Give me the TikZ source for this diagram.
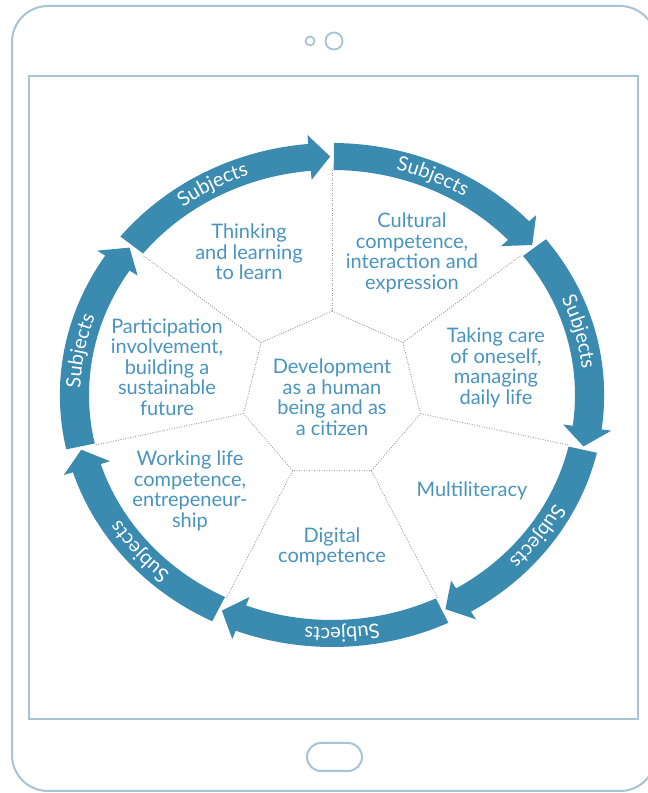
\documentclass[tikz,border=0pt]{standalone}
\usepackage{fontspec}
\setmainfont{Lato}
\usetikzlibrary{decorations.text}
\definecolor{arrowblue}{RGB}{58,139,175}
\definecolor{textblue}{RGB}{72,148,190}
\definecolor{framec}{RGB}{166,196,212}
\definecolor{dotgray}{RGB}{150,150,150}
\newcommand{\subjfont}{\fontsize{20}{20}\selectfont\color{white}}
\tikzset{
  framestyle/.style={draw=framec, line width=2pt},
  dotline/.style={draw=dotgray, line width=0.9pt, dash pattern=on 0.9pt off 1.6pt},
  label/.style={text=textblue, align=center, inner sep=0pt, font=\fontsize{20}{20.5}\selectfont},
  arrowband/.style={fill=arrowblue},
}
\begin{document}
\begin{tikzpicture}[x=1pt,y=1pt]
\useasboundingbox (0,0) rectangle (648,793);
\clip (0,0) rectangle (648,793);
% tablet frame
\draw[framestyle, rounded corners=36pt] (12,2) rectangle (656,787);
\draw[framestyle] (29,74) rectangle (638,717);
\draw[framestyle, line width=1.8pt] (310,752) circle (4.5);
\draw[framestyle, line width=1.8pt] (334,752) circle (8.5);
\draw[framestyle, rounded corners=14pt] (307,22) rectangle (362,50);
% geometry
\def\cx{332}\def\cy{398}\def\sx{1.08}
\foreach \k in {0,...,6} {
  \pgfmathsetmacro\t{90-\k*360/7}
  \coordinate (h\k) at ({\cx+\sx*84*cos(\t)},{\cy+84*sin(\t)});
  \coordinate (r\k) at ({\cx+\sx*225*cos(\t)},{\cy+225*sin(\t)});
}
% dotted heptagon and spokes
\draw[dotline] (h0) -- (h1) -- (h2) -- (h3) -- (h4) -- (h5) -- (h6) -- cycle;
\foreach \k in {0,...,6} { \draw[dotline] (h\k) -- (r\k); }
% arrows
\foreach \k in {0,...,6} {
  \pgfmathsetmacro\ta{90-\k*360/7-0.4}
  \pgfmathsetmacro\tb{90-(\k+1)*360/7}
  \pgfmathsetmacro\tp{\tb+0.4}
  \pgfmathsetmacro\hb{\tb+5}
  \fill[arrowband] ({\cx+\sx*252*cos(\ta)},{\cy+252*sin(\ta)})
     arc[start angle=\ta, end angle=\hb, x radius=\sx*252, y radius=252]
     -- ({\cx+\sx*261*cos(\hb)},{\cy+261*sin(\hb)})
     -- ({\cx+\sx*238.5*cos(\tp)},{\cy+238.5*sin(\tp)})
     -- ({\cx+\sx*216*cos(\hb)},{\cy+216*sin(\hb)})
     -- ({\cx+\sx*225*cos(\hb)},{\cy+225*sin(\hb)})
     arc[start angle=\hb, end angle=\ta, x radius=\sx*225, y radius=225]
     -- cycle;
  \path[decorate, decoration={text along path, text align=center, text color=white,
        text={|\subjfont|Subjects}}]
     ({\cx+\sx*233*cos(\ta)},{\cy+233*sin(\ta)})
     arc[start angle=\ta, end angle=\hb, x radius=\sx*233, y radius=233];
}
% labels
\node[label] (think) at (249,541) {Thinking\\and learning\\to learn};
\node[label] (cult) at (412,540) {Cultural\\competence,\\interaction and\\expression};
\node[label] (care) at (496,425) {Taking care\\of oneself,\\managing\\daily life};
\node[label] (multi) at (472,302) {Multiliteracy};
\node[label] (digit) at (332,246) {Digital\\competence};
\node[label] (work) at (190,302) {Working life\\competence,\\entrepeneur-\\ship};
\node[label] (part) at (167,426) {Participation\\involvement,\\building a\\sustainable\\future};
\node[label] (dev) at (332,396) {Development\\as a human\\being and as\\a citizen};
\end{tikzpicture}
\end{document}
